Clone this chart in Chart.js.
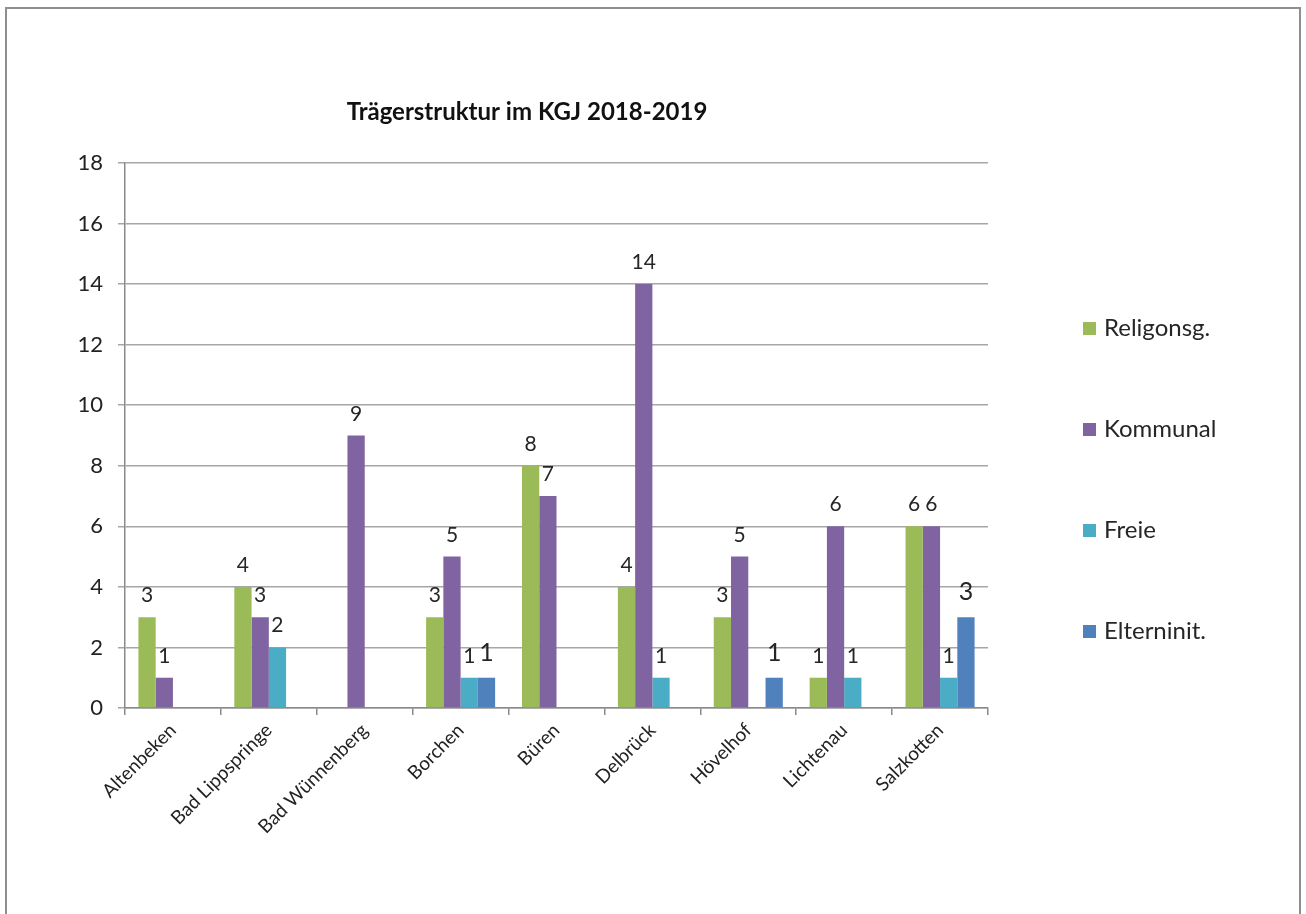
<!DOCTYPE html>
<html>
<head>
<meta charset="utf-8">
<script src="https://cdn.jsdelivr.net/npm/chart.js@4.4.1/dist/chart.umd.min.js"></script>
<style>
  html, body { margin: 0; padding: 0; background: #fff; overflow: hidden; }
  #wrap { position: relative; width: 1306px; height: 914px; }
  #frame { position: absolute; left: 5px; top: 7px; width: 1296px; height: 930px; border: 2px solid #8e8e8e; border-bottom: none; box-sizing: border-box; }
  #myChart { position: absolute; left: 0; top: 0; }
</style>
</head>
<body>
<div id="wrap">
  <div id="frame"></div>
  <canvas id="myChart" width="1306" height="914"></canvas>
</div>
<script>
// Chart data
const titleText = "Trägerstruktur im KGJ 2018-2019";
const categories = ["Altenbeken", "Bad Lippspringe", "Bad Wünnenberg", "Borchen", "Büren", "Delbrück", "Hövelhof", "Lichtenau", "Salzkotten"];
const seriesNames = ["Religonsg.", "Kommunal", "Freie", "Elterninit."];
const religionsg = [3, 4, null, 3, 8, 4, 3, 1, 6];
const kommunal = [1, 3, 9, 5, 7, 14, 5, 6, 6];
const freie = [null, 2, null, 1, null, 1, null, 1, 1];
const elterninit = [null, null, null, 1, null, null, 1, null, 3];
const seriesColors = ["#9bbb59", "#8064a2", "#4bacc6", "#4f81bd"];
const yMax = 18;
const yStep = 2;

const FONT = "Lato, 'Open Sans', sans-serif";
const ctx = document.getElementById("myChart");

const data = {
  labels: categories,
  datasets: [religionsg, kommunal, freie, elterninit].map((values, i) => ({
    label: seriesNames[i],
    data: values,
    backgroundColor: seriesColors[i],
    borderWidth: 0,
  })),
};

// value labels above the bars
let valueLabels = {
  id: "valueLabels",
  afterDatasetsDraw: (chart) => {
    const c = chart.ctx;
    c.save();
    c.fillStyle = "#262626";
    c.textAlign = "center";
    c.textBaseline = "alphabetic";
    chart.data.datasets.forEach((ds, di) => {
      const meta = chart.getDatasetMeta(di);
      c.font = (di === 3 ? "25px " : "21px ") + FONT;
      meta.data.forEach((bar, i) => {
        const v = ds.data[i];
        if (v === null || v === undefined) return;
        c.fillText(String(v), bar.x, bar.y - (di === 3 ? 17 : 15));
      });
    });
    c.restore();
  },
};

// title, placed like in the original sheet
let sheetTitle = {
  id: "sheetTitle",
  afterDraw: (chart) => {
    const c = chart.ctx;
    c.save();
    c.font = "bold 24px " + FONT;
    c.fillStyle = "#111";
    c.textAlign = "center";
    c.textBaseline = "middle";
    c.fillText(titleText, 527, 112);
    c.restore();
  },
};

// legend on the right with wide spacing
let sideLegend = {
  id: "sideLegend",
  afterDraw: (chart) => {
    const c = chart.ctx;
    const x = chart.chartArea.right + 95;
    const y0 = 328;
    const gap = 101;
    c.save();
    c.font = "24px " + FONT;
    c.textBaseline = "middle";
    c.textAlign = "left";
    chart.data.datasets.forEach((ds, i) => {
      const y = y0 + i * gap;
      c.fillStyle = ds.backgroundColor;
      c.fillRect(x, y - 6, 13, 13);
      c.fillStyle = "#262626";
      c.fillText(ds.label, x + 21, y);
    });
    c.restore();
  },
};

//   chart options setup
const options = {
  responsive: false,
  animation: false,
  events: [],
  layout: {
    padding: { left: 65, right: 318, top: 163, bottom: 56 },
  },
  plugins: {
    legend: { display: false },
    tooltip: { enabled: false },
    title: { display: false },
  },
  datasets: {
    bar: { categoryPercentage: 0.72, barPercentage: 1 },
  },
  scales: {
    x: {
      afterFit: (scale) => { scale.height = 150; },
      grid: {
        offset: true,
        drawOnChartArea: false,
        drawTicks: true,
        tickLength: 7,
        color: "#8a8a8a",
        lineWidth: 1.5,
      },
      border: { color: "#8a8a8a", width: 1.5 },
      ticks: {
        minRotation: 45,
        maxRotation: 45,
        padding: 4,
        color: "#222",
        font: { family: FONT, size: 19 },
      },
    },
    y: {
      min: 0,
      max: yMax,
      afterFit: (scale) => { scale.width = 60; },
      grid: {
        color: "#a6a6a6",
        lineWidth: 1.5,
        tickLength: 7,
      },
      border: { color: "#8a8a8a", width: 1.5 },
      ticks: {
        stepSize: yStep,
        padding: 15,
        color: "#222",
        font: { family: FONT, size: 22 },
      },
    },
  },
};

// Chart init
new Chart(ctx, {
  type: "bar",
  data,
  options,
  plugins: [valueLabels, sheetTitle, sideLegend],
});
</script>
</body>
</html>
